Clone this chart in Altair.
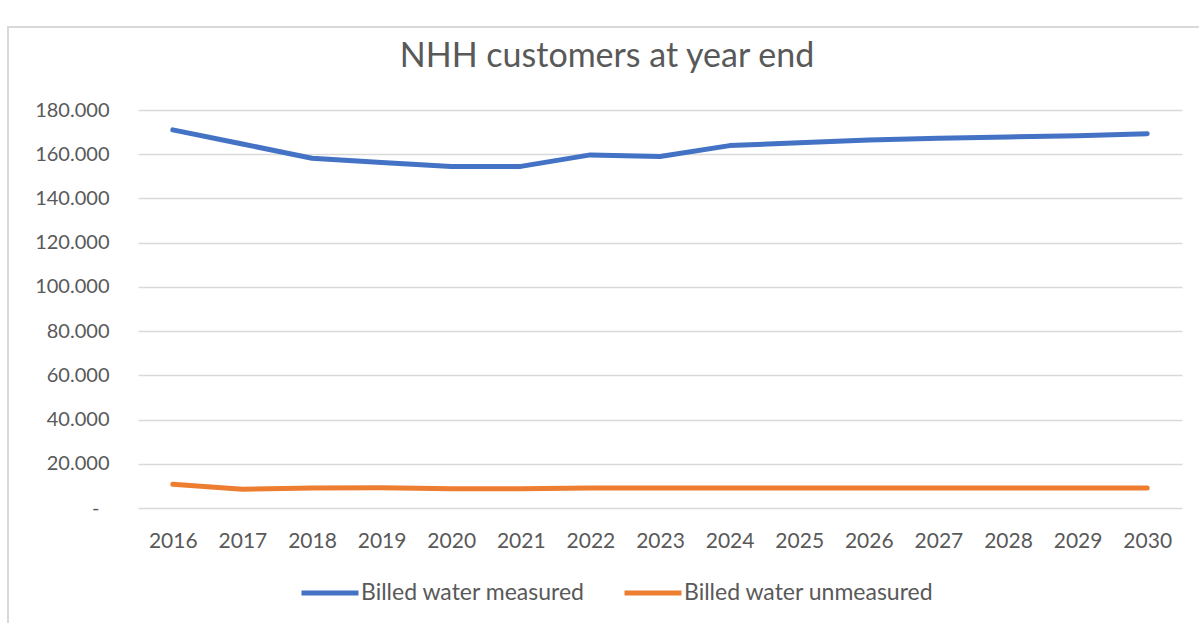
import altair as alt
import pandas as pd

# Non-household customers at year end, by billing type
years = [str(y) for y in range(2016, 2031)]
measured = [171000, 164600, 158200, 156300, 154500, 154500, 159700, 159000,
            163900, 165200, 166400, 167200, 167800, 168400, 169300]
unmeasured = [10700, 8500, 9100, 9200, 8700, 8700, 9000, 9000,
              9100, 9100, 9100, 9100, 9100, 9100, 9100]

series_names = ["Billed water measured", "Billed water unmeasured"]
series_colors = ["#4472C4", "#ED7D31"]
title_text = "NHH customers at year end"

rows = []
for name, vals in zip(series_names, [measured, unmeasured]):
    for yr, v in zip(years, vals):
        rows.append({"year": yr, "series": name, "customers": v})
df = pd.DataFrame(rows)

FONT = "Lato"
GREY_TEXT = "#595959"
W, H = 1044, 398

# zero is shown as an accounting-style dash; the zero-width space keeps the
# padding after it from being trimmed away
zero_label = "-\u2002\u200b"

lines = alt.Chart(df).mark_line(
    strokeWidth=5, strokeCap="round", strokeJoin="round"
).encode(
    x=alt.X("year:O", sort=years, title=None,
            scale=alt.Scale(padding=0.5),
            axis=alt.Axis(labelAngle=0, domain=False, ticks=False, tickSize=0,
                          labelPadding=22, labelFontSize=21, labelColor=GREY_TEXT,
                          labelFont=FONT, grid=False)),
    y=alt.Y("customers:Q", title=None,
            scale=alt.Scale(domain=[0, 180000], nice=False),
            axis=alt.Axis(values=list(range(0, 180001, 20000)), domain=False,
                          ticks=False, tickSize=0, labelPadding=29,
                          labelFontSize=20, labelColor=GREY_TEXT, labelFont=FONT,
                          gridColor="#D9D9D9", gridWidth=1.5,
                          labelExpr=f"datum.value == 0 ? '{zero_label}' : "
                                    "replace(format(datum.value, ','), ',', '.')")),
    color=alt.Color("series:N",
                    scale=alt.Scale(domain=series_names, range=series_colors),
                    legend=alt.Legend(title=None, orient="none", direction="horizontal",
                                      legendX=161, legendY=452,
                                      symbolType="stroke", symbolSize=3249,
                                      symbolStrokeWidth=5, labelFontSize=23,
                                      labelFont=FONT, labelColor=GREY_TEXT,
                                      labelLimit=0,
                                      labelOffset=0, columnPadding=29)),
)

# Chart title, placed above the plot area
title = alt.Chart(alt.Data(values=[{}])).mark_text(
    text=title_text, font=FONT, fontSize=34, color=GREY_TEXT,
    align="center", baseline="middle"
).encode(x=alt.value(469), y=alt.value(-53))

# Light outer frame around the chart area
frame = alt.Chart(alt.Data(values=[{}])).mark_rect(
    filled=False, stroke="#D9D9D9", strokeWidth=2, clip=False
).encode(x=alt.value(-130), x2=alt.value(1080), y=alt.value(-83), y2=alt.value(600))

chart = alt.layer(frame, lines, title).properties(
    width=W, height=H,
    padding={"left": 138, "top": 110, "right": 17, "bottom": 115},
    autosize=alt.AutoSizeParams(type="none"),
    background="white",
).configure_view(stroke=None)

chart.save("out.html", embed_options={"renderer": "svg", "actions": False})
